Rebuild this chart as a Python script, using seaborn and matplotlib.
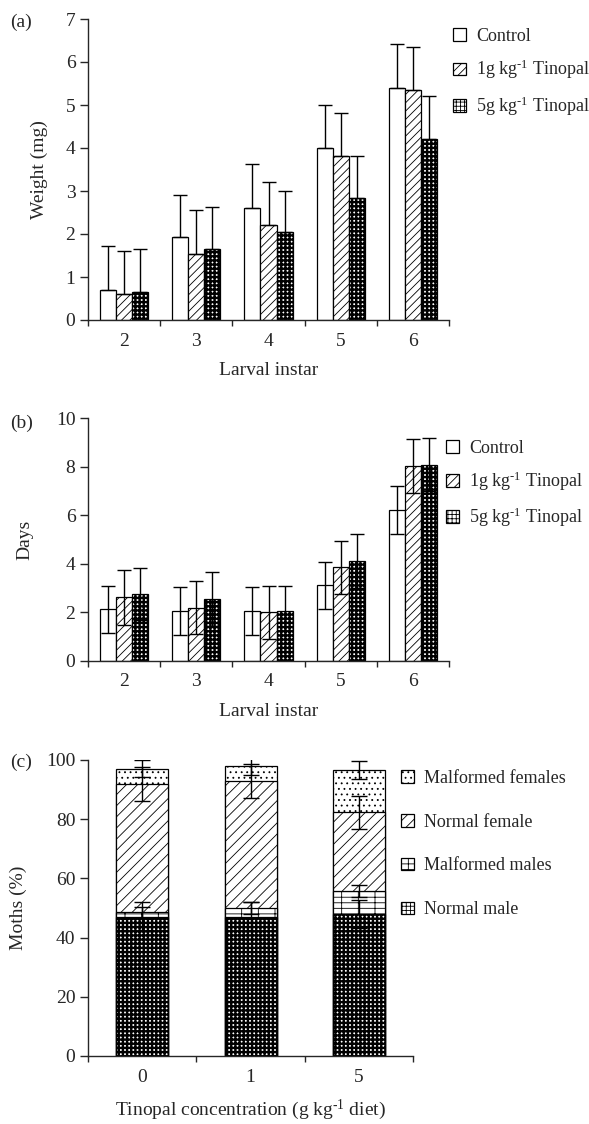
import numpy as np
import pandas as pd
import matplotlib
matplotlib.use('Agg')
import matplotlib.pyplot as plt
from matplotlib.patches import Patch
import seaborn as sns

# dados
instars = ['2', '3', '4', '5', '6']
treatments = ['Control', '1g kg$^{\\text{-1}}$ Tinopal', '5g kg$^{\\text{-1}}$ Tinopal']

weight_control = [0.70, 1.92, 2.60, 3.99, 5.40]
weight_1g = [0.60, 1.53, 2.22, 3.81, 5.36]
weight_5g = [0.66, 1.66, 2.04, 2.84, 4.20]
weight_err_control = [1.03, 0.98, 1.03, 1.01, 1.01]
weight_err_1g = [1.00, 1.03, 0.99, 1.00, 1.00]
weight_err_5g = [1.00, 0.97, 0.96, 0.97, 1.02]

days_control = [2.12, 2.06, 2.06, 3.11, 6.20]
days_1g = [2.61, 2.19, 2.00, 3.85, 8.02]
days_5g = [2.75, 2.54, 2.06, 4.11, 8.09]
days_err_control = [0.98, 0.99, 0.99, 0.98, 0.99]
days_err_1g = [1.12, 1.10, 1.09, 1.10, 1.11]
days_err_5g = [1.09, 1.12, 1.02, 1.10, 1.10]

concentrations = ['0', '1', '5']
normal_male = [47.1, 47.1, 47.9]
malformed_males = [1.4, 2.8, 7.8]
normal_female = [43.4, 43.0, 26.6]
malformed_females = [5.2, 5.2, 14.3]
err_normal_male = [5.0, 5.0, 4.8]
err_malformed_males = [2.0, 2.0, 2.0]
err_normal_female = [5.6, 5.9, 5.6]
err_malformed_females = [3.0, 3.0, 3.1]

sns.set_style('ticks')
plt.rcParams['font.family'] = ['Liberation Serif', 'DejaVu Serif']
plt.rcParams['mathtext.fontset'] = 'custom'
plt.rcParams['mathtext.rm'] = 'Liberation Serif'
plt.rcParams['mathtext.default'] = 'regular'
plt.rcParams['font.size'] = 14
plt.rcParams['axes.linewidth'] = 1.0
plt.rcParams['hatch.linewidth'] = 0.6

FS = 14      # eixos e ticks
LFS = 13     # legenda

# estilos de preenchimento: (face, hatch, espessura do hatch)
st_control = ('white', '', 0.6)
st_1g = ('white', '////', 0.6)
st_5g = ('white', '++++', 1.7)
st_nf = ('white', '///', 0.6)
st_mf = ('white', '...', 0.6)
st_mm = ('white', '---|', 0.6)
st_nm = ('white', '++++', 1.7)


def apply_style(patches, style):
    face, hatch, hlw = style
    for p in patches:
        p.set_facecolor(face)
        p.set_edgecolor('black')
        p.set_linewidth(0.9)
        p.set_hatch(hatch)
        if hasattr(p, 'set_hatch_linewidth'):
            p.set_hatch_linewidth(hlw)


def legend_handles(styles):
    hs = []
    for st in styles:
        h = Patch(facecolor=st[0], edgecolor='black', hatch=st[1], linewidth=0.9)
        if hasattr(h, 'set_hatch_linewidth'):
            h.set_hatch_linewidth(st[2])
        hs.append(h)
    return hs


def style_axis(ax, n, ymax, ystep):
    ax.set_xlim(-0.5, n - 0.5)
    ax.set_ylim(0, ymax)
    ax.set_yticks(np.arange(0, ymax + 0.01, ystep))
    ax.set_xticks(np.arange(-0.5, n, 1), minor=True)
    ax.tick_params(axis='x', which='major', length=0, pad=9, labelsize=FS)
    ax.tick_params(axis='x', which='minor', length=4, width=1.0, direction='out')
    ax.tick_params(axis='y', length=6, width=1.0, direction='out', labelsize=FS, pad=3)
    sns.despine(ax=ax)


fig = plt.figure(figsize=(5.89, 11.24), dpi=100)
W, H = 589.0, 1124.0

# ---------- (a) peso ----------
ax_a = fig.add_axes([88 / W, 1 - 320 / H, 361 / W, 301 / H])
df_a = pd.DataFrame({
    'instar': instars * 3,
    'treat': [treatments[0]] * 5 + [treatments[1]] * 5 + [treatments[2]] * 5,
    'value': weight_control + weight_1g + weight_5g,
})
sns.barplot(data=df_a, x='instar', y='value', hue='treat', hue_order=treatments,
            order=instars, errorbar=None, width=0.667, dodge=True, legend=False,
            palette=['white'] * 3, ax=ax_a)
errs_a = [weight_err_control, weight_err_1g, weight_err_5g]
vals_a = [weight_control, weight_1g, weight_5g]
for cont, st, v, e in zip(ax_a.containers, [st_control, st_1g, st_5g], vals_a, errs_a):
    apply_style(cont.patches, st)
    xs = [p.get_x() + p.get_width() / 2 for p in cont.patches]
    ax_a.errorbar(xs, v, yerr=[np.zeros(len(e)), e], fmt='none', ecolor='black',
                  elinewidth=1.0, capsize=5, capthick=1.0, zorder=5)
style_axis(ax_a, 5, 7, 1)
ax_a.set_xlabel('Larval instar', fontsize=FS, labelpad=9)
ax_a.set_ylabel('Weight (mg)', fontsize=FS)
ax_a.yaxis.set_label_coords(-0.111, 0.5)
fig.text(10 / W, 1 - 22 / H, '(a)', fontsize=FS, va='center')
fig.legend(legend_handles([st_control, st_1g, st_5g]), treatments, loc='upper left',
           bbox_to_anchor=(453 / W, 1 - 28 / H), frameon=False, fontsize=LFS,
           handlelength=0.7, handleheight=0.7, handletextpad=0.6,
           labelspacing=0.72, borderpad=0, borderaxespad=0)

# ---------- (b) dias ----------
ax_b = fig.add_axes([88 / W, 1 - 660.7 / H, 361 / W, 242.4 / H])
df_b = pd.DataFrame({
    'instar': instars * 3,
    'treat': [treatments[0]] * 5 + [treatments[1]] * 5 + [treatments[2]] * 5,
    'value': days_control + days_1g + days_5g,
})
sns.barplot(data=df_b, x='instar', y='value', hue='treat', hue_order=treatments,
            order=instars, errorbar=None, width=0.667, dodge=True, legend=False,
            palette=['white'] * 3, ax=ax_b)
errs_b = [days_err_control, days_err_1g, days_err_5g]
vals_b = [days_control, days_1g, days_5g]
for cont, st, v, e in zip(ax_b.containers, [st_control, st_1g, st_5g], vals_b, errs_b):
    apply_style(cont.patches, st)
    xs = [p.get_x() + p.get_width() / 2 for p in cont.patches]
    ax_b.errorbar(xs, v, yerr=e, fmt='none', ecolor='black',
                  elinewidth=1.0, capsize=5, capthick=1.0, zorder=5)
style_axis(ax_b, 5, 10, 2)
ax_b.set_xlabel('Larval instar', fontsize=FS, labelpad=9)
ax_b.set_ylabel('Days', fontsize=FS)
ax_b.yaxis.set_label_coords(-0.152, 0.5)
fig.text(10 / W, 1 - 423 / H, '(b)', fontsize=FS, va='center')
fig.legend(legend_handles([st_control, st_1g, st_5g]), treatments, loc='upper left',
           bbox_to_anchor=(446 / W, 1 - 440 / H), frameon=False, fontsize=LFS,
           handlelength=0.7, handleheight=0.7, handletextpad=0.6,
           labelspacing=0.7, borderpad=0, borderaxespad=0)

# ---------- (c) mariposas (empilhado) ----------
ax_c = fig.add_axes([88 / W, 1 - 1056 / H, 325 / W, 296 / H])
layers = [normal_male, malformed_males, normal_female, malformed_females]
layer_err = [err_normal_male, err_malformed_males, err_normal_female, err_malformed_females]
layer_st = [st_nm, st_mm, st_nf, st_mf]
cum = np.cumsum(np.array(layers), axis=0)
# desenha do topo para baixo para empilhar
for i in range(3, -1, -1):
    sns.barplot(x=concentrations, y=cum[i], order=concentrations, width=0.48,
                errorbar=None, color='white', ax=ax_c)
    apply_style(ax_c.containers[-1].patches, layer_st[i])
xs_c = [p.get_x() + p.get_width() / 2 for p in ax_c.containers[-1].patches]
for i in range(4):
    ax_c.errorbar(xs_c, cum[i], yerr=layer_err[i], fmt='none', ecolor='black',
                  elinewidth=1.0, capsize=6, capthick=1.0, zorder=5)
style_axis(ax_c, 3, 100, 20)
ax_c.set_xlabel('Tinopal concentration (g kg$^{\\text{-1}}$ diet)', fontsize=FS, labelpad=9)
ax_c.set_ylabel('Moths (%)', fontsize=FS)
ax_c.yaxis.set_label_coords(-0.188, 0.5)
fig.text(10 / W, 1 - 762 / H, '(c)', fontsize=FS, va='center')
labels_c = ['Malformed females', 'Normal female', 'Malformed males', 'Normal male']
fig.legend(legend_handles([st_mf, st_nf, st_mm, st_nm]), labels_c, loc='upper left',
           bbox_to_anchor=(401 / W, 1 - 770 / H), frameon=False, fontsize=LFS,
           handlelength=0.7, handleheight=0.7, handletextpad=0.6,
           labelspacing=1.48, borderpad=0, borderaxespad=0)

fig.savefig('out.png', dpi=100)
